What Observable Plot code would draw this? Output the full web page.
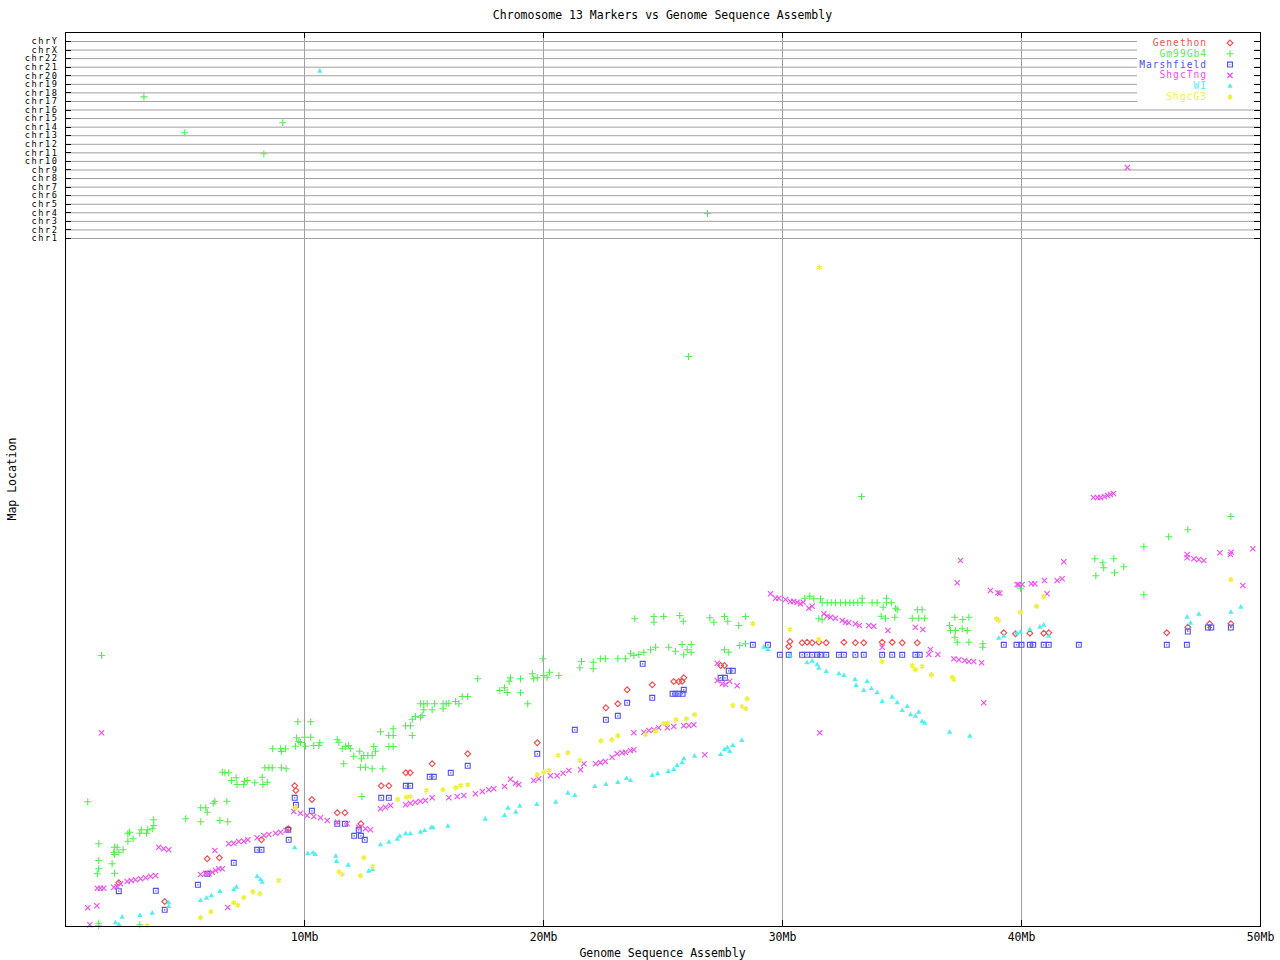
<!DOCTYPE html>
<html><head><meta charset="utf-8">
<script src="https://cdn.jsdelivr.net/npm/d3@7"></script>
<script src="https://cdn.jsdelivr.net/npm/@observablehq/plot@0.6"></script>
<style>
html,body{margin:0;padding:0;background:#fff;}
#chart{width:1280px;height:960px;}
</style></head><body><div id="chart"></div>
<script>
// ---------- categories / labels ----------
const chartTitle = "Chromosome 13 Markers vs Genome Sequence Assembly";
const xLabel = "Genome Sequence Assembly";
const yLabel = "Map Location";
const seriesNames = ["Genethon","Gm99Gb4","Marshfield","ShgcTng","WI","ShgcG3"];
const chromosomes = ["chr1","chr2","chr3","chr4","chr5","chr6","chr7","chr8","chr9","chr10","chr11","chr12","chr13","chr14","chr15","chr16","chr17","chr18","chr19","chr20","chr21","chr22","chrX","chrY"];
const xTicksMb = [10,20,30,40,50];

// ---------- series values: [assembly position (Mb), chr13 map location] ----------
const genethon = [[2.23,43.7],[4.15,25],[5.93,67.7],[6.44,68.7],[8.20,86.7],[9.32,97.7],[9.59,140.7],[9.64,136],[10.31,127],[11.37,113.7],[11.69,113.7],[12.36,102.7],[13.21,140.7],[13.53,140.7],[14.24,153.7],[14.42,153.7],[15.34,162.7],[16.83,172.7],[19.74,183.7],[22.61,218.7],[23.11,222.7],[23.50,236.7],[24.55,241.7],[25.45,245],[25.66,245],[25.80,245.3],[25.87,248.7],[27.41,261],[27.57,261],[30.31,285],[30.26,280],[30.82,283.7],[31.03,284.3],[31.24,283.7],[31.52,284.3],[31.83,283.7],[32.57,284.3],[33.05,283.7],[33.40,283.7],[34.17,284.3],[34.59,284.3],[35.01,283.7],[35.64,283.7],[39.26,293.7],[39.75,292.7],[40.35,293.3],[40.93,293.3],[41.14,293.7],[46.08,293.7],[46.96,299.3],[47.87,302.7],[48.76,302.7]];

const gm99Gb4 = [[26.07,570],[33.31,430],
[0.93,124.7],[1.51,271],[1.39,82.7],[1.39,66],[1.39,57.7],[1.33,52.7],[1.39,3.3],[1.39,0.8],[1.95,62.7],[2.05,79.3],[2.02,74.3],[2.05,72],[2.16,79.3],[2.23,74.3],[2.41,76.7],[2.05,53.3],[2.61,92.7],[2.61,85.3],[2.68,94.3],[2.83,87.7],[3.11,93.3],[3.17,96.7],[3.39,93.3],[3.44,96.7],[3.63,97.7],[3.69,106.7],[3.69,101],[3.11,1.7],
[5.03,107.7],[5.66,118.7],[5.87,118.7],[5.93,114.3],[5.66,104.7],[6.18,123.3],[6.25,125.3],[6.46,106],[6.75,125.3],[6.79,104.7],
[6.56,154.3],[6.67,153.7],[6.83,153.7],[6.95,146],[7.14,148.7],[7.18,142],[7.46,142],[7.49,145.3],[7.60,146],[7.92,143.7],[8.23,149.3],[8.26,142],[8.34,158.7],[8.44,144.3],[8.51,158.7],[8.65,158.7],[8.67,177.7],[9.00,177.7],[9.03,175],[9.21,177.7],[9.03,158.7],[9.23,157.7],
[9.62,180.3],[9.67,188.7],[9.76,185],[9.72,204.7],[10.26,204.7],[10.00,189.3],[10.26,189.3],[10.04,180.3],[9.83,184],[10.39,181],[10.60,181],[10.64,183.7],
[11.37,186.7],[11.44,184.3],[11.58,177.7],[11.72,180],[11.85,181],[11.92,177.7],[12.06,170.3],[12.31,175.3],[12.38,167.7],[12.48,171],[12.65,171],[12.83,171],[12.90,180],[12.97,175.3],[11.64,162.7],[12.34,159.3],[12.55,159.3],[12.83,157.7],[13.28,157.7],[12.40,130],
[13.18,194.7],[13.53,191],[13.71,197.7],[13.71,191],[13.53,180],[13.71,180],[14.23,200.7],[14.43,200.7],[14.51,191],[14.51,207.3],[14.64,210],[14.85,209.3],[14.92,211],[14.85,222.7],[14.99,222.7],[15.13,222.7],[15.44,222.7],[14.99,216.7],[15.34,216.7],[15.80,222.7],[15.93,222.7],[16.04,223.3],[16.46,222.7],[15.80,217.7],[16.32,225],[16.60,230],[16.83,230],
[17.25,247.7],[18.17,236],[18.37,238.7],[18.48,234],[18.56,245.3],[18.62,248.7],[19.04,247.7],[19.04,233.7],[19.34,222.7],[19.53,252.7],[19.59,247.7],[19.74,248.7],[20.01,251],[20.25,254.3],[20.15,249.3],[20.64,251],[19.97,267.7],
[21.59,265],[21.52,258.7],[22.08,264.3],[22.08,257.7],[22.38,267.7],[22.59,267.7],[23.11,267.7],[23.43,267.7],[23.64,272.7],[23.78,271],[23.99,272],[24.20,274.3],[24.48,276.7],[24.69,279.3],[25.24,279.3],[25.52,275.3],[25.80,282],[25.87,271.7],[26.01,276.7],[26.18,274.3],[26.18,282],[27.57,276.7],[27.75,274.3],[28.21,281],[28.45,282.7],
[23.82,307.7],[24.62,310],[24.62,304.3],[25.03,310],[25.70,311],[25.85,305.3],[26.96,308.7],[27.13,304.3],[27.57,310],[27.71,305.3],[28.17,301],[28.46,310],
[30.93,328.3],[31.14,330.3],[31.31,327.7],[31.59,327.7],[31.66,323.7],[31.87,323.7],[32.04,323.7],[32.22,323.7],[32.43,323.7],[32.64,323.7],[32.82,323.7],[32.98,323.7],[33.15,323.7],[33.33,323.7],[33.75,323.7],[33.96,323.7],[34.35,323.7],[34.55,323.7],[33.33,328.3],[34.35,328.3],[34.21,319.3],[34.73,318.3],[34.80,316.7],[31.52,307.7],[31.66,306.7],[34.13,310.3],[34.31,308.3],[34.70,309.3],[35.43,308.3],[35.64,316.7],[35.84,316.7],[35.70,308.3],[35.95,308.3],
[36.99,301],[37.21,309.3],[37.03,296],[37.24,296],[37.52,297.7],[37.73,296],[37.54,307],[37.80,309.3],[37.21,289.3],[37.31,284.3],[37.80,284.3],[38.38,282.7],[38.38,279.3],[39.96,338.3],
[48.76,410],[46.96,396.7],[46.16,389.7],[45.12,379.7],[43.07,367.7],[43.40,363.7],[43.86,367.7],[43.44,358.7],[44.28,359.7],[43.89,353.7],[43.11,350.7],[45.12,331.7]];

const marshfield = [[2.23,35.3],[3.78,35.7],[4.15,16.7],[5.54,41.7],[5.93,52.7],[7.04,63.7],[8.02,76.7],[8.20,76.7],[9.34,86.7],[9.32,96.7],[9.59,128.7],[9.64,121.7],[10.31,115.7],[11.37,102.7],[11.69,102.7],[12.08,90.7],[12.27,96.7],[12.36,90.7],[12.52,86.7],[13.21,128.7],[13.53,128.7],[14.24,140.7],[14.42,140.7],[15.24,149.7],[15.41,149.7],[16.12,153.7],[16.83,160.7],[19.74,172.7],[21.31,196.7],[22.61,206.7],[23.11,210.7],[23.50,223.7],[24.55,228.7],[24.15,262.7],[25.40,232.7],[25.52,232.7],[25.65,232.7],[25.82,232.7],[25.87,236.7],[27.75,255.7],[27.92,255.7],[27.41,248.7],[27.59,248.7],[28.76,281.7],[29.39,281.7],
[29.89,271.7],[30.26,271.7],[30.82,271.7],[31.03,271.7],[31.24,271.7],[31.45,271.7],[31.59,271.7],[31.83,271.7],[32.36,271.7],[32.57,271.7],[33.05,271.7],[33.40,271.7],[34.17,271.7],[34.59,271.7],[35.01,271.7],[35.56,271.7],[35.74,271.7],
[39.26,281.7],[39.79,281.7],[40.00,281.7],[40.35,281.7],[40.49,281.7],[40.93,281.7],[41.14,281.7],[42.40,281.7],[46.08,281.7],[46.92,281.7],[46.96,295],[47.80,299],[47.94,299],[48.76,299]];

const shgcTng = [[43.01,429],[43.18,429],[43.31,429],[43.47,430],[43.60,431],[43.72,432],[43.85,433],
[0.93,18.7],[1.31,20.7],[1.02,1.7],[1.51,193.7],[1.33,38.3],[1.46,38.3],[1.60,38.3],[2.02,39.3],[2.16,40],[2.30,42.7],[2.58,45],[2.75,46],[2.93,46.7],[3.14,47.7],[3.35,48.7],[3.56,50.3],[3.77,51],[3.90,79.3],[4.11,77.7],[4.32,76.7],
[5.65,52],[5.86,53.3],[6.00,52.7],[6.14,54.3],[6.28,56],[6.41,57.7],[6.56,57.7],[6.25,76],[6.79,19],[6.83,82.7],[7.04,83.3],[7.25,85],[7.46,85.3],[7.63,86.7],[8.02,88.7],[8.30,91],[8.51,92],[8.79,93.3],[9.00,94.3],[9.23,96],
[9.55,115],[9.83,113.3],[10.11,111],[10.39,110],[10.67,108.7],[10.95,106],[11.37,104.3],[11.79,102.7],[12.27,99.3],[12.55,97.7],[12.76,96.7],
[13.18,117.7],[13.39,119.3],[13.60,121],[14.23,121.7],[14.43,123.3],[14.64,124.3],[14.85,125.3],[15.06,126],[15.34,128.7],[16.04,128.7],[16.39,130],[16.67,131],[17.15,132.7],[17.44,135],[17.71,136.7],[17.92,137.7],[18.37,140],[18.62,147.3],[18.83,143.3],[18.97,142],[19.59,146],[19.80,147.7],[20.29,150.7],[20.57,150.7],[20.82,153.3],[21.06,156],
[21.55,156.7],[21.69,162.7],[22.18,162.7],[22.38,164],[22.59,165],[22.87,169.3],[23.08,172.7],[23.29,173.7],[23.43,174.3],[23.64,176],[23.78,176.7],
[23.78,193.7],[24.20,194.3],[24.41,196],[24.62,196.7],[24.82,198.7],[25.18,198.7],[25.45,200],[25.87,200.7],[26.08,201],[26.29,201.7],[26.75,171.7],
[27.27,263.3],[27.27,246],[27.48,242.7],[27.62,242],[27.79,245.3],[28.10,240.7],
[29.50,332.7],[29.71,328.3],[29.85,328.3],[30.13,327],[30.33,325],[30.47,325],[30.61,324.3],[30.75,322.7],[30.87,324.3],[31.10,318.3],[31.24,320.3],[31.73,312.7],[31.87,310.3],[32.01,309.3],[32.22,308.3],[32.50,306],[32.64,304.3],[32.77,303.7],[33.05,302.7],[33.22,301],[33.61,301],[33.82,300.3],[34.41,296],[35.56,299.3],[35.87,297],[34.17,279.3],[36.19,277],[36.12,272],[36.50,272],
[37.31,343.7],[37.45,366],[37.17,267.7],[37.38,266.7],[37.62,266],[37.80,265],[38.00,265],[38.33,263.7],[38.42,223.7],[31.56,193.7],
[38.70,336],[39.01,333.7],[39.09,333.3],[39.89,341.7],[39.82,342],[40.03,342],[40.41,342.7],[40.56,342.7],[40.96,346],[41.49,346],[41.70,347.7],[41.07,332.7],[41.77,364.7],
[46.93,372],[46.93,368.7],[47.21,367.7],[47.42,367],[47.63,366],[48.30,373.7],[48.77,374.3],[48.74,372],[49.68,377.7],[49.26,341]];

const wi = [[2.09,3.7],[2.23,2],[2.37,9.3],[3.11,11],[3.63,13.3],[4.32,23.7],[4.32,20],[5.65,26],[5.90,28.3],[6.10,30.7],[6.46,35],[7.04,36.7],[7.15,39.3],[8.02,50],[8.16,46.7],[8.23,44.3],[9.59,78.7],[10.14,72.7],[10.36,73.7],[10.45,72],[11.31,70.3],[11.34,65],[11.83,61.3],[12.69,55.3],[12.85,57],
[13.18,81.7],[13.53,84.3],[13.88,87.3],[13.99,90.3],[14.23,92.7],[14.43,92.7],[14.85,94.3],[15.03,96],[15.30,98.7],[15.38,98.7],[16.00,100.3],[17.56,107.3],[18.37,111],[18.51,118.3],[18.84,114.3],[19.01,120.3],[19.72,122],[20.51,124.3],[21.02,133.3],[21.31,131],[22.15,140],[22.61,142],[23.11,144],[23.47,148],[23.64,146],[24.55,151],[24.78,152.7],[25.22,155],[25.45,157],[25.59,161],[25.80,163.7],[25.87,167.7],[26.32,170.3],[27.41,172],[27.57,176.7],[27.69,178.7],[27.79,175],[27.92,181],[28.30,186],
[29.22,279.3],[29.39,277],[30.31,271],[31.03,263.7],[31.24,265.3],[31.45,261.7],[31.52,258.3],[31.83,255],[32.36,252.7],[32.57,251],[33.03,247],[33.54,245],[33.08,241],[33.40,236],[33.72,237.7],[33.96,233.7],[34.17,225],[34.59,229.3],[34.80,223.7],[35.01,216],[35.22,220],[35.36,211.7],[35.56,210.3],[35.70,214.3],[35.84,205],[35.95,203.3],[36.99,194.3],[37.84,190.3],
[39.05,288.3],[39.26,290.3],[39.79,293.3],[39.96,294.3],[40.35,297],[40.77,299.3],[40.93,301.3],[41.14,290.3],[46.93,309.3],[47.07,303.3],[47.42,312.3],[48.76,314.3],[49.18,319.3]];

const shgcG3 = [[31.55,659],
[3.42,1],[5.65,8.7],[6.08,14.7],[7.04,23.7],[7.21,21.3],[7.46,28.7],[7.84,34.7],[8.13,32.7],[8.92,46],[9.62,118.7],[11.44,54.7],[11.58,52],[12.34,50.7],[12.48,68.7],[12.86,60],
[13.90,127.3],[14.27,129.3],[14.43,130],[15.10,136],[15.79,136.7],[16.33,138.7],[16.53,141],[16.83,141.7],[19.74,151.7],[20.01,154.3],[20.22,156],[20.61,171],[21.02,173.7],[21.52,166],
[22.40,185.7],[22.86,186.7],[23.11,190.7],[24.27,192],[24.69,195.3],[25.03,202.7],[25.18,203.3],[25.54,206.7],[25.98,207.7],[26.32,211.7],[27.92,221],[28.31,220],[28.46,217.7],[28.52,227.7],[28.76,302.7],
[30.31,297],[31.52,287],[34.17,265],[35.43,261],[35.56,256.7],[35.84,260],[36.23,251.7],[37.10,249.3],[37.17,247],[38.95,307.7],[39.05,306],[39.96,314.3],[40.63,320.3],[40.93,329.7],[48.76,346.7]];

// markers placed on other chromosomes: [assembly position (Mb), chromosome row (fractional index, chr1 = 1 ... chrY = 24)]
const offChromGm99Gb4 = [[3.28,17.54],[4.99,13.34],[9.09,14.51],[8.30,10.89],[26.86,3.92]];
const offChromShgcTng = [[44.43,9.29]];
const offChromWI = [[10.64,20.53]];

// ---------- layout / style (not data) ----------
const W = 1280, H = 960, mL = 65, mR = 20, mT = 32, mB = 34;
const yMax = 894;                  // top of the map-location axis
const chrRowBase = 688, chrRowStep = 8.565;   // chromosome band rows above the chr13 map
const chrRow = c => chrRowBase + (c - 1) * chrRowStep;
const chrTickValues = chromosomes.map((_, i) => chrRow(i + 1));
const gridColor = "#a0a0a0";
const font = "'DejaVu Sans Mono', 'Liberation Mono', monospace";
const styles = {
  Genethon:   {color: "#f05050", symbol: "diamond2", r: 2.6, mode: "stroke", sw: 1.2},
  Gm99Gb4:    {color: "#50f050", symbol: "plus",     r: 2.4, mode: "stroke", sw: 1.1},
  Marshfield: {color: "#5050f0", symbol: "square2",  r: 3.1, mode: "stroke", sw: 1.1},
  ShgcTng:    {color: "#f050f0", symbol: "times",    r: 2.5, mode: "stroke", sw: 1.2},
  WI:         {color: "#50f0f0", symbol: "triangle", r: 2.0, mode: "fill",   sw: 0},
  ShgcG3:     {color: "#f0f040", symbol: "asterisk", r: 2.5, mode: "stroke", sw: 1.6}
};

// ---------- table built from arrays ----------
const valuesBySeries = {Genethon: genethon, Gm99Gb4: gm99Gb4, Marshfield: marshfield, ShgcTng: shgcTng, WI: wi, ShgcG3: shgcG3};
const offBySeries = {Gm99Gb4: offChromGm99Gb4, ShgcTng: offChromShgcTng, WI: offChromWI};
const table = [];
for (const s of seriesNames) {
  for (const [x, y] of valuesBySeries[s]) table.push({series: s, x, y});
  for (const [x, c] of (offBySeries[s] || [])) table.push({series: s, x, y: chrRow(c)});
}

function dotMarks(s) {
  const st = styles[s];
  const data = table.filter(d => d.series === s);
  const opts = {x: "x", y: "y", symbol: st.symbol, r: st.r};
  if (st.mode === "fill") { opts.fill = st.color; opts.stroke = "none"; }
  else { opts.stroke = st.color; opts.fill = "none"; opts.strokeWidth = st.sw; }
  const marks = [Plot.dot(data, opts)];
  if (s === "Marshfield") marks.push(Plot.dot(data, {x: "x", y: "y", symbol: "square", r: 0.7, fill: st.color}));
  return marks;
}

const chartSvg = Plot.plot({
  width: W, height: H,
  marginLeft: mL, marginRight: mR, marginTop: mT, marginBottom: mB,
  x: {domain: [0, 50]},
  y: {domain: [0, yMax]},
  style: {fontFamily: font, fontSize: "11.5px", background: "white", color: "black"},
  marks: [
    Plot.gridX({ticks: xTicksMb.slice(0, -1), stroke: gridColor, strokeOpacity: 1}),
    Plot.gridY({ticks: chrTickValues, stroke: gridColor, strokeOpacity: 1}),
    Plot.axisX({ticks: xTicksMb, tickFormat: d => d + "Mb", tickSize: 0, tickPadding: 6, label: null}),
    Plot.axisY({ticks: chrTickValues, tickFormat: v => chromosomes[Math.round((v - chrRowBase) / chrRowStep)], tickSize: 0, tickPadding: 7, fontSize: 8.6, label: null}),
    ...seriesNames.flatMap(dotMarks),
    Plot.frame({stroke: "black"})
  ]
});
document.getElementById("chart").appendChild(chartSvg);

// ---------- decorations: inward ticks, titles, legend ----------
const svgSel = d3.select(chartSvg);
svgSel.selectAll('[aria-label="y-axis tick label"] text').attr("letter-spacing", "1.6px");
const xs = chartSvg.scale("x"), ys = chartSvg.scale("y");
const frameLeft = mL, frameRight = W - mR, frameTop = mT, frameBottom = H - mB;
const tg = svgSel.append("g").attr("stroke", "black").attr("shape-rendering", "crispEdges");
for (const v of chrTickValues) {
  const y = Math.round(ys.apply(v)) + 0.5;
  tg.append("line").attr("x1", frameLeft).attr("x2", frameLeft + 6).attr("y1", y).attr("y2", y);
  tg.append("line").attr("x1", frameRight - 6).attr("x2", frameRight).attr("y1", y).attr("y2", y);
}
for (const v of xTicksMb.slice(0, -1)) {
  const x = Math.round(xs.apply(v)) + 0.5;
  tg.append("line").attr("x1", x).attr("x2", x).attr("y1", frameBottom - 6).attr("y2", frameBottom);
  tg.append("line").attr("x1", x).attr("x2", x).attr("y1", frameTop).attr("y2", frameTop + 6);
}
const txt = svgSel.append("g").attr("font-family", font).attr("font-size", "11.5px").attr("fill", "black");
txt.append("text").attr("x", (frameLeft + frameRight) / 2).attr("y", 15).attr("text-anchor", "middle").attr("dominant-baseline", "middle").text(chartTitle);
txt.append("text").attr("x", (frameLeft + frameRight) / 2).attr("y", 953).attr("text-anchor", "middle").attr("dominant-baseline", "middle").text(xLabel);
txt.append("text").attr("transform", `translate(12,${(frameTop + frameBottom) / 2}) rotate(-90)`).attr("text-anchor", "middle").attr("dominant-baseline", "middle").text(yLabel);

// legend
const lg = svgSel.append("g");
lg.append("rect").attr("x", 1137).attr("y", frameTop + 1).attr("width", frameRight - 6 - 1137).attr("height", 72).attr("fill", "white");
const typeMap = {diamond2: d3.symbolDiamond2, plus: d3.symbolPlus, square2: d3.symbolSquare2, times: d3.symbolTimes, triangle: d3.symbolTriangle, asterisk: d3.symbolAsterisk};
seriesNames.forEach((s, i) => {
  const st = styles[s];
  const y = 43 + i * 10.8;
  lg.append("text").attr("x", 1207).attr("y", y).attr("text-anchor", "end").attr("dominant-baseline", "middle")
    .attr("font-family", font).attr("font-size", "9.6px").attr("letter-spacing", "1px").attr("fill", st.color).text(s);
  const p = lg.append("path").attr("transform", `translate(1230,${y})`)
    .attr("d", d3.symbol(typeMap[st.symbol], Math.PI * st.r * st.r)());
  if (st.mode === "fill") p.attr("fill", st.color);
  else p.attr("fill", "none").attr("stroke", st.color).attr("stroke-width", st.sw);
  if (s === "Marshfield") lg.append("rect").attr("x", 1229.5).attr("y", y - 0.5).attr("width", 1).attr("height", 1).attr("fill", st.color);
});
</script>
</body></html>
